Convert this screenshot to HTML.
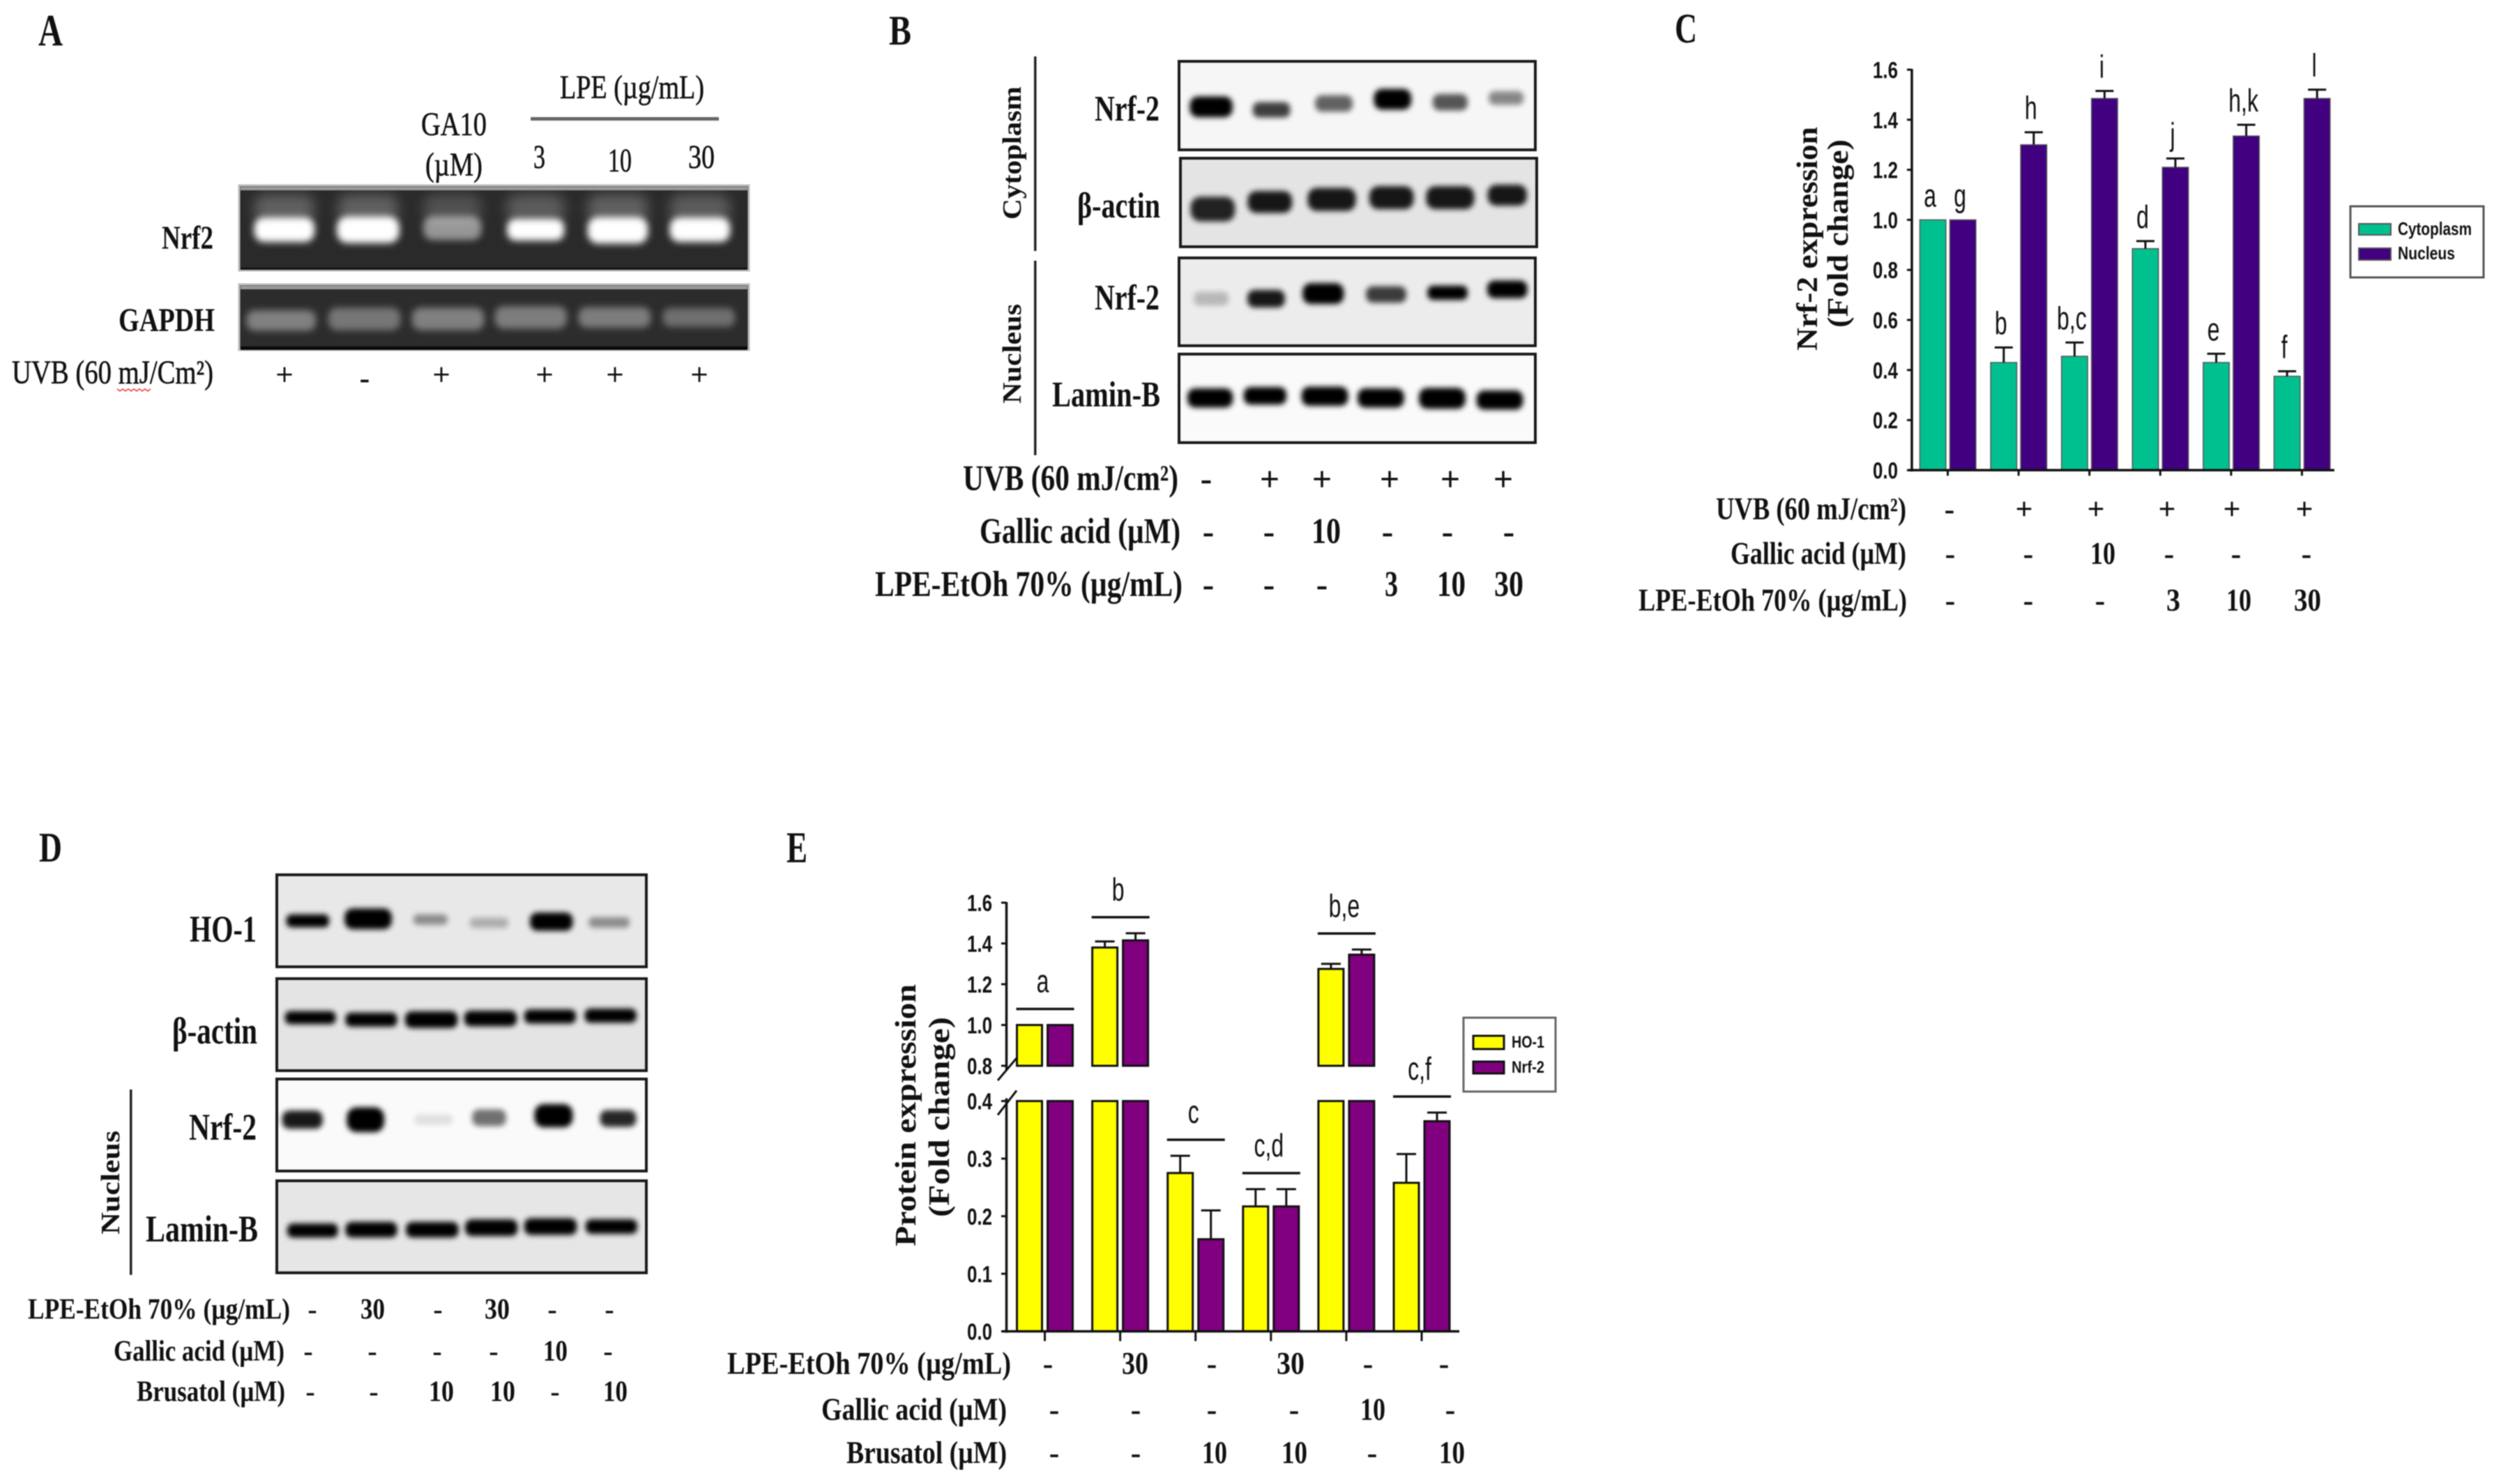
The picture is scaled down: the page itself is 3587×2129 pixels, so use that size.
<!DOCTYPE html>
<html lang="en">
<head>
<meta charset="utf-8">
<title>Nrf-2 and HO-1 expression figure</title>
<style>
html,body{margin:0;padding:0;background:#fff;width:3587px;height:2129px;overflow:hidden}
svg{display:block;filter:blur(0.9px)}
text{fill:#111}
.s{font-family:"Liberation Serif",serif;stroke:#111;stroke-width:.6}
.b{font-family:"Liberation Serif",serif;font-weight:700}
.m{text-anchor:middle}
.blot{stroke:#1a1a1a;stroke-width:4}
</style>
</head>
<body>
<svg id="fig" xmlns="http://www.w3.org/2000/svg" width="3587" height="2129" viewBox="0 0 3587 2129">
<defs>
<filter id="bandBlur" x="-40%" y="-80%" width="180%" height="260%"><feGaussianBlur stdDeviation="4"/></filter>
<filter id="gelBlur" x="-40%" y="-80%" width="180%" height="260%"><feGaussianBlur stdDeviation="5"/></filter>
<filter id="smearBlur" x="-40%" y="-80%" width="180%" height="260%"><feGaussianBlur stdDeviation="9"/></filter>
</defs>
<rect width="3587" height="2129" fill="#fff"/>

<!-- PANEL A -->
<g>
<text class="b" x="55" y="65" font-size="65" textLength="35" lengthAdjust="spacingAndGlyphs">A</text>
<text class="s" x="803" y="141" font-size="48" textLength="207" lengthAdjust="spacingAndGlyphs">LPE (µg/mL)</text>
<rect x="761" y="168" width="270" height="5" fill="#666"/>
<text class="s" x="604" y="194" font-size="48" textLength="94" lengthAdjust="spacingAndGlyphs">GA10</text>
<text class="s" x="610" y="252" font-size="48" textLength="82" lengthAdjust="spacingAndGlyphs">(µM)</text>
<text class="s" x="765" y="241" font-size="48" textLength="17" lengthAdjust="spacingAndGlyphs">3</text>
<text class="s" x="872" y="246" font-size="48" textLength="34" lengthAdjust="spacingAndGlyphs">10</text>
<text class="s" x="987" y="241" font-size="48" textLength="38" lengthAdjust="spacingAndGlyphs">30</text>
<rect x="343" y="266" width="731" height="122" fill="#2a2a2a" stroke="#bbb" stroke-width="3"/>
<g id="gelNrf2"></g>
<rect x="345" y="268" width="727" height="5" fill="#9a9a9a"/>
<rect x="345" y="384" width="727" height="3" fill="#111"/>
<rect x="343" y="408" width="731" height="94" fill="#2c2c2c" stroke="#bbb" stroke-width="3"/>
<g id="gelGapdh"></g>
<rect x="345" y="410" width="727" height="5" fill="#9a9a9a"/>
<rect x="345" y="497" width="727" height="5" fill="#0a0a0a"/>
<text class="b" x="232" y="357" font-size="48" textLength="74" lengthAdjust="spacingAndGlyphs">Nrf2</text>
<text class="b" x="170" y="475" font-size="48" textLength="138" lengthAdjust="spacingAndGlyphs">GAPDH</text>
<text class="s" x="17" y="550" font-size="48" textLength="289" lengthAdjust="spacingAndGlyphs">UVB (60 mJ/Cm²)</text>
<path d="M168 558l4 3 4-3 4 3 4-3 4 3 4-3 4 3 4-3 4 3 4-3 4 3 4-3" fill="none" stroke="#e33" stroke-width="1.5"/>
<text class="s m" x="408" y="552" font-size="44">+</text>
<text class="b m" x="523" y="557" font-size="44">-</text>
<text class="s m" x="633" y="552" font-size="44">+</text>
<text class="s m" x="781" y="552" font-size="44">+</text>
<text class="s m" x="882" y="552" font-size="44">+</text>
<text class="s m" x="1003" y="552" font-size="44">+</text>
</g>

<!-- PANEL B -->
<g>
<text class="b" x="1275" y="64" font-size="60" textLength="32" lengthAdjust="spacingAndGlyphs">B</text>
<rect x="1483" y="81" width="3.5" height="279" fill="#222"/>
<rect x="1483" y="374" width="3.5" height="279" fill="#222"/>
<text class="b" transform="translate(1464,315) rotate(-90)" font-size="38" textLength="191" lengthAdjust="spacingAndGlyphs">Cytoplasm</text>
<text class="b" transform="translate(1464,579) rotate(-90)" font-size="38" textLength="143" lengthAdjust="spacingAndGlyphs">Nucleus</text>
<rect class="blot" x="1691" y="88" width="511" height="127" fill="#f6f6f6"/>
<rect class="blot" x="1693" y="227" width="511" height="127" fill="#e4e4e4"/>
<rect class="blot" x="1691" y="370" width="511" height="126" fill="#ececec"/>
<rect class="blot" x="1691" y="508" width="511" height="127" fill="#fafafa"/>
<g id="blotB"></g>
<text class="b" x="1570" y="173" font-size="52" textLength="93" lengthAdjust="spacingAndGlyphs">Nrf-2</text>
<text class="b" x="1545" y="312" font-size="52" textLength="119" lengthAdjust="spacingAndGlyphs">β-actin</text>
<text class="b" x="1570" y="444" font-size="52" textLength="93" lengthAdjust="spacingAndGlyphs">Nrf-2</text>
<text class="b" x="1509" y="583" font-size="52" textLength="155" lengthAdjust="spacingAndGlyphs">Lamin-B</text>
<text class="b" x="1381" y="703" font-size="52" textLength="309" lengthAdjust="spacingAndGlyphs">UVB (60 mJ/cm²)</text>
<text class="b" x="1405" y="779" font-size="52" textLength="288" lengthAdjust="spacingAndGlyphs">Gallic acid (µM)</text>
<text class="b" x="1255" y="855" font-size="52" textLength="441" lengthAdjust="spacingAndGlyphs">LPE-EtOh 70% (µg/mL)</text>
<text class="b m" x="1730" y="703" font-size="50">-</text>
<text class="b m" x="1821" y="704" font-size="50">+</text>
<text class="b m" x="1896" y="704" font-size="50">+</text>
<text class="b m" x="1993" y="704" font-size="50">+</text>
<text class="b m" x="2080" y="704" font-size="50">+</text>
<text class="b m" x="2156" y="704" font-size="50">+</text>
<text class="b m" x="1733" y="779" font-size="50">-</text>
<text class="b m" x="1820" y="779" font-size="50">-</text>
<text class="b" x="1881" y="779" font-size="52" textLength="42" lengthAdjust="spacingAndGlyphs">10</text>
<text class="b m" x="1990" y="779" font-size="50">-</text>
<text class="b m" x="2076" y="779" font-size="50">-</text>
<text class="b m" x="2164" y="779" font-size="50">-</text>
<text class="b m" x="1733" y="855" font-size="50">-</text>
<text class="b m" x="1820" y="855" font-size="50">-</text>
<text class="b m" x="1896" y="855" font-size="50">-</text>
<text class="b" x="1986" y="855" font-size="52" textLength="19" lengthAdjust="spacingAndGlyphs">3</text>
<text class="b" x="2061" y="855" font-size="52" textLength="41" lengthAdjust="spacingAndGlyphs">10</text>
<text class="b" x="2143" y="855" font-size="52" textLength="42" lengthAdjust="spacingAndGlyphs">30</text>
</g>

<!-- PANEL C -->
<g id="chartC">
<text class="b" x="2402" y="61" font-size="60" textLength="32" lengthAdjust="spacingAndGlyphs">C</text>
<text class="b" transform="translate(2606,503) rotate(-90)" font-size="42" textLength="321" lengthAdjust="spacingAndGlyphs">Nrf-2 expression</text>
<text class="b" transform="translate(2650,470) rotate(-90)" font-size="42" textLength="270" lengthAdjust="spacingAndGlyphs">(Fold change)</text>
<rect x="3371" y="296" width="191" height="102" fill="#fff" stroke="#555" stroke-width="3"/>
<rect x="3383" y="321" width="46" height="16" fill="#00c08f" stroke="#555" stroke-width="2"/>
<rect x="3383" y="356" width="46" height="17" fill="#400080" stroke="#555" stroke-width="2"/>
<text font-family="Liberation Sans, sans-serif" font-weight="700" font-size="26" x="3439" y="337" textLength="106" lengthAdjust="spacingAndGlyphs">Cytoplasm</text>
<text font-family="Liberation Sans, sans-serif" font-weight="700" font-size="26" x="3439" y="372" textLength="82" lengthAdjust="spacingAndGlyphs">Nucleus</text>
<text class="b" x="2461" y="745" font-size="45" textLength="273" lengthAdjust="spacingAndGlyphs">UVB (60 mJ/cm²)</text>
<text class="b" x="2482" y="809" font-size="45" textLength="252" lengthAdjust="spacingAndGlyphs">Gallic acid (µM)</text>
<text class="b" x="2350" y="876" font-size="45" textLength="385" lengthAdjust="spacingAndGlyphs">LPE-EtOh 70% (µg/mL)</text>
<text class="b m" x="2796" y="745" font-size="44">-</text>
<text class="b m" x="2903" y="745" font-size="44">+</text>
<text class="b m" x="3006" y="745" font-size="44">+</text>
<text class="b m" x="3108" y="745" font-size="44">+</text>
<text class="b m" x="3201" y="745" font-size="44">+</text>
<text class="b m" x="3305" y="745" font-size="44">+</text>
<text class="b m" x="2797" y="809" font-size="44">-</text>
<text class="b m" x="2909" y="809" font-size="44">-</text>
<text class="b" x="2998" y="809" font-size="45" textLength="36" lengthAdjust="spacingAndGlyphs">10</text>
<text class="b m" x="3111" y="809" font-size="44">-</text>
<text class="b m" x="3207" y="809" font-size="44">-</text>
<text class="b m" x="3308" y="809" font-size="44">-</text>
<text class="b m" x="2797" y="876" font-size="44">-</text>
<text class="b m" x="2909" y="876" font-size="44">-</text>
<text class="b m" x="3012" y="876" font-size="44">-</text>
<text class="b" x="3107" y="876" font-size="45" textLength="20" lengthAdjust="spacingAndGlyphs">3</text>
<text class="b" x="3193" y="876" font-size="45" textLength="36" lengthAdjust="spacingAndGlyphs">10</text>
<text class="b" x="3290" y="876" font-size="45" textLength="39" lengthAdjust="spacingAndGlyphs">30</text>
</g>

<!-- PANEL D -->
<g>
<text class="b" x="56" y="1236" font-size="60" textLength="33" lengthAdjust="spacingAndGlyphs">D</text>
<rect class="blot" x="397" y="1255" width="530" height="132" fill="#e8e8e8"/>
<rect class="blot" x="397" y="1404" width="530" height="132" fill="#e4e4e4"/>
<rect class="blot" x="397" y="1548" width="530" height="132" fill="#fafafa"/>
<rect class="blot" x="397" y="1694" width="530" height="132" fill="#e6e6e6"/>
<g id="blotD"></g>
<text class="b" x="272" y="1351" font-size="54" textLength="96" lengthAdjust="spacingAndGlyphs">HO-1</text>
<text class="b" x="247" y="1497" font-size="54" textLength="122" lengthAdjust="spacingAndGlyphs">β-actin</text>
<text class="b" x="271" y="1635" font-size="54" textLength="97" lengthAdjust="spacingAndGlyphs">Nrf-2</text>
<text class="b" x="209" y="1781" font-size="54" textLength="161" lengthAdjust="spacingAndGlyphs">Lamin-B</text>
<rect x="186" y="1563" width="3.5" height="266" fill="#222"/>
<text class="b" transform="translate(171,1771) rotate(-90)" font-size="38" textLength="149" lengthAdjust="spacingAndGlyphs">Nucleus</text>
<text class="b" x="40" y="1892" font-size="42" textLength="376" lengthAdjust="spacingAndGlyphs">LPE-EtOh 70% (µg/mL)</text>
<text class="b" x="163" y="1952" font-size="42" textLength="245" lengthAdjust="spacingAndGlyphs">Gallic acid (µM)</text>
<text class="b" x="196" y="2010" font-size="42" textLength="213" lengthAdjust="spacingAndGlyphs">Brusatol (µM)</text>
<text class="b m" x="448" y="1892" font-size="40">-</text>
<text class="b" x="517" y="1892" font-size="42" textLength="35" lengthAdjust="spacingAndGlyphs">30</text>
<text class="b m" x="628" y="1892" font-size="40">-</text>
<text class="b" x="695" y="1892" font-size="42" textLength="36" lengthAdjust="spacingAndGlyphs">30</text>
<text class="b m" x="792" y="1892" font-size="40">-</text>
<text class="b m" x="874" y="1892" font-size="40">-</text>
<text class="b m" x="442" y="1952" font-size="40">-</text>
<text class="b m" x="534" y="1952" font-size="40">-</text>
<text class="b m" x="627" y="1952" font-size="40">-</text>
<text class="b m" x="708" y="1952" font-size="40">-</text>
<text class="b" x="779" y="1952" font-size="42" textLength="35" lengthAdjust="spacingAndGlyphs">10</text>
<text class="b m" x="872" y="1952" font-size="40">-</text>
<text class="b m" x="445" y="2010" font-size="40">-</text>
<text class="b m" x="536" y="2010" font-size="40">-</text>
<text class="b" x="615" y="2010" font-size="42" textLength="36" lengthAdjust="spacingAndGlyphs">10</text>
<text class="b" x="703" y="2010" font-size="42" textLength="36" lengthAdjust="spacingAndGlyphs">10</text>
<text class="b m" x="796" y="2010" font-size="40">-</text>
<text class="b" x="865" y="2010" font-size="42" textLength="35" lengthAdjust="spacingAndGlyphs">10</text>
</g>

<!-- PANEL E -->
<g id="chartE">
<text class="b" x="1128" y="1237" font-size="64" textLength="30" lengthAdjust="spacingAndGlyphs">E</text>
<text class="b" transform="translate(1313,1788) rotate(-90)" font-size="42" textLength="376" lengthAdjust="spacingAndGlyphs">Protein expression</text>
<text class="b" transform="translate(1361,1746) rotate(-90)" font-size="42" textLength="287" lengthAdjust="spacingAndGlyphs">(Fold change)</text>
<rect x="2099" y="1460" width="132" height="106" fill="#fff" stroke="#666" stroke-width="3"/>
<rect x="2113" y="1486" width="44" height="19" fill="#ffff00" stroke="#111" stroke-width="3"/>
<rect x="2113" y="1523" width="44" height="17" fill="#800080" stroke="#111" stroke-width="3"/>
<text font-family="Liberation Sans, sans-serif" font-weight="700" font-size="24" x="2168" y="1503" textLength="47" lengthAdjust="spacingAndGlyphs">HO-1</text>
<text font-family="Liberation Sans, sans-serif" font-weight="700" font-size="24" x="2168" y="1539" textLength="47" lengthAdjust="spacingAndGlyphs">Nrf-2</text>
<text class="b" x="1043" y="1971" font-size="45" textLength="407" lengthAdjust="spacingAndGlyphs">LPE-EtOh 70% (µg/mL)</text>
<text class="b" x="1178" y="2037" font-size="45" textLength="266" lengthAdjust="spacingAndGlyphs">Gallic acid (µM)</text>
<text class="b" x="1214" y="2099" font-size="45" textLength="230" lengthAdjust="spacingAndGlyphs">Brusatol (µM)</text>
<text class="b m" x="1503" y="1971" font-size="44">-</text>
<text class="b" x="1609" y="1971" font-size="45" textLength="38" lengthAdjust="spacingAndGlyphs">30</text>
<text class="b m" x="1738" y="1971" font-size="44">-</text>
<text class="b" x="1831" y="1971" font-size="45" textLength="40" lengthAdjust="spacingAndGlyphs">30</text>
<text class="b m" x="1962" y="1971" font-size="44">-</text>
<text class="b m" x="2071" y="1971" font-size="44">-</text>
<text class="b m" x="1512" y="2037" font-size="44">-</text>
<text class="b m" x="1629" y="2037" font-size="44">-</text>
<text class="b m" x="1738" y="2037" font-size="44">-</text>
<text class="b m" x="1856" y="2037" font-size="44">-</text>
<text class="b" x="1951" y="2037" font-size="45" textLength="36" lengthAdjust="spacingAndGlyphs">10</text>
<text class="b m" x="2080" y="2037" font-size="44">-</text>
<text class="b m" x="1512" y="2099" font-size="44">-</text>
<text class="b m" x="1629" y="2099" font-size="44">-</text>
<text class="b" x="1724" y="2099" font-size="45" textLength="36" lengthAdjust="spacingAndGlyphs">10</text>
<text class="b" x="1838" y="2099" font-size="45" textLength="37" lengthAdjust="spacingAndGlyphs">10</text>
<text class="b m" x="1968" y="2099" font-size="44">-</text>
<text class="b" x="2064" y="2099" font-size="45" textLength="37" lengthAdjust="spacingAndGlyphs">10</text>
</g>
</svg>

<script>
// ---- Panel C data ----
const cCategories = ['control', 'uvb', 'uvb-gallic-10', 'uvb-lpe-3', 'uvb-lpe-10', 'uvb-lpe-30'];
const cCytoplasm = [1.0, 0.43, 0.455, 0.885, 0.43, 0.375];
const cNucleus = [1.0, 1.30, 1.485, 1.21, 1.335, 1.485];
const cCytoplasmErr = [0, 0.06, 0.055, 0.03, 0.035, 0.02];
const cNucleusErr = [0, 0.05, 0.03, 0.035, 0.045, 0.035];
const cCytoplasmLetters = ['a', 'b', 'b,c', 'd', 'e', 'f'];
const cNucleusLetters = ['g', 'h', 'i', 'j', 'h,k', 'l'];
const cYTicks = ['0.0', '0.2', '0.4', '0.6', '0.8', '1.0', '1.2', '1.4', '1.6'];

// ---- Panel E data ----
const eCategories = ['control', 'lpe-30', 'brusatol-10', 'lpe-30-brusatol-10', 'gallic-10', 'brusatol-10-only'];
const eHo1 = [1.0, 1.38, 0.275, 0.217, 1.275, 0.258];
const eNrf2 = [1.0, 1.415, 0.16, 0.217, 1.345, 0.365];
const eHo1Err = [0, 0.03, 0.03, 0.03, 0.025, 0.05];
const eNrf2Err = [0, 0.035, 0.05, 0.03, 0.025, 0.015];
const eGroupLetters = ['a', 'b', 'c', 'c,d', 'b,e', 'c,f'];
const eYTicks = ['0.0', '0.1', '0.2', '0.3', '0.4', '0.8', '1.0', '1.2', '1.4', '1.6'];

const NS = 'http://www.w3.org/2000/svg';
function add(parent, tag, attrs, name) {
  const el = document.createElementNS(NS, tag);
  for (const k in attrs) el.setAttribute(k, attrs[k]);
  
  
  parent.appendChild(el);
  return el;
}
function label(parent, str, attrs, name) {
  const el = add(parent, 'text', attrs, name);
  el.textContent = str;
  return el;
}
const SANS = '"Liberation Sans", sans-serif';
function narrow(x, y) { return 'translate(' + x + ',' + y + ') scale(0.8,1.15)'; }

// ---- Panel C chart ----
(function () {
  const g = document.getElementById('chartC');
  const y0 = 674.5, pxPerUnit = 359.1;
  const yScale = v => y0 - v * pxPerUnit;
  const xLeft = 2753.5, step = 101.6, barW = 37.4, secondOffset = 43;
  const xBar = (i, s) => xLeft + i * step + s * secondOffset;
  const colors = ['#00c08f', '#400080'];
  const series = [cCytoplasm, cNucleus];
  const errs = [cCytoplasmErr, cNucleusErr];
  const letters = [cCytoplasmLetters, cNucleusLetters];
  const names = ['cytoplasm', 'nucleus'];
  cCategories.forEach((c, i) => {
    series.forEach((vals, s) => {
      const v = vals[i], x = xBar(i, s), top = yScale(v), eTop = yScale(v + errs[s][i]), mid = x + barW / 2;
      add(g, 'rect', { x: x, y: top, width: barW, height: y0 - top, fill: colors[s], stroke: '#555', 'stroke-width': 1.5 }, 'bar-' + names[s] + '-' + c);
      if (errs[s][i] > 0) {
        add(g, 'line', { x1: mid, x2: mid, y1: top, y2: eTop, stroke: '#111', 'stroke-width': 3 }, 'error-bar-' + names[s]);
        add(g, 'line', { x1: mid - 13, x2: mid + 13, y1: eTop, y2: eTop, stroke: '#111', 'stroke-width': 3 }, 'error-cap-' + names[s]);
      }
      label(g, letters[s][i], { transform: narrow(mid - 4, eTop - 19), 'text-anchor': 'middle', 'font-family': SANS, 'font-size': 40 }, 'significance-letter');
    });
    const tx = xLeft + i * step + 40;
    add(g, 'line', { x1: tx, x2: tx, y1: y0, y2: y0 + 8, stroke: '#111', 'stroke-width': 3 }, 'x-tick');
  });
  add(g, 'line', { x1: 2742, x2: 2742, y1: yScale(1.6) - 1, y2: y0 + 2, stroke: '#111', 'stroke-width': 3.5 }, 'y-axis-line');
  add(g, 'line', { x1: 2737, x2: 3348, y1: y0, y2: y0, stroke: '#111', 'stroke-width': 3.5 }, 'x-axis-line');
  cYTicks.forEach(t => {
    const y = yScale(parseFloat(t));
    add(g, 'line', { x1: 2735, x2: 2742, y1: y, y2: y, stroke: '#111', 'stroke-width': 3 }, 'y-tick');
    label(g, t, { x: 2686, y: y + 12, 'font-family': SANS, 'font-weight': 700, 'font-size': 33, textLength: 36, lengthAdjust: 'spacingAndGlyphs' }, 'y-tick-label');
  });
})();

// ---- Panel E chart (broken y axis) ----
(function () {
  const g = document.getElementById('chartE');
  const y0 = 1910, yLowTop = 1579.6, yHighBase = 1529, yHighTop = 1295;
  const lowScale = v => y0 - v * (y0 - yLowTop) / 0.4;
  const highScale = v => yHighBase - (v - 0.8) * (yHighBase - yHighTop) / 0.8;
  const yScale = v => v >= 0.8 ? highScale(v) : lowScale(Math.min(v, 0.4));
  const xLeft = 1458.5, step = 108.1, barW = 36, secondOffset = 44;
  const xBar = (i, s) => xLeft + i * step + s * secondOffset;
  const colors = ['#ffff00', '#800080'];
  const series = [eHo1, eNrf2];
  const errs = [eHo1Err, eNrf2Err];
  const names = ['ho1', 'nrf2'];
  eCategories.forEach((c, i) => {
    let groupTop = Infinity;
    series.forEach((vals, s) => {
      const v = vals[i], x = xBar(i, s), mid = x + barW / 2;
      const lowTop = yScale(Math.min(v, 0.4));
      add(g, 'rect', { x: x, y: lowTop, width: barW, height: y0 - lowTop, fill: colors[s], stroke: '#111', 'stroke-width': 3 }, 'bar-' + names[s] + '-' + c);
      if (v >= 0.8) {
        const hiTop = highScale(v);
        add(g, 'rect', { x: x, y: hiTop, width: barW, height: yHighBase - hiTop, fill: colors[s], stroke: '#111', 'stroke-width': 3 }, 'bar-upper-' + names[s] + '-' + c);
      }
      const top = yScale(v), eTop = yScale(v + errs[s][i]);
      groupTop = Math.min(groupTop, eTop);
      if (errs[s][i] > 0) {
        add(g, 'line', { x1: mid, x2: mid, y1: top, y2: eTop, stroke: '#111', 'stroke-width': 3 }, 'error-bar-' + names[s]);
        add(g, 'line', { x1: mid - 14, x2: mid + 14, y1: eTop, y2: eTop, stroke: '#111', 'stroke-width': 3 }, 'error-cap-' + names[s]);
      }
    });
    const bx = xBar(i, 0) - 1;
    add(g, 'line', { x1: bx, x2: bx + 83, y1: groupTop - 23, y2: groupTop - 23, stroke: '#111', 'stroke-width': 3.5 }, 'significance-bracket');
    label(g, eGroupLetters[i], { transform: narrow(bx + 38, groupTop - 47), 'text-anchor': 'middle', 'font-family': SANS, 'font-size': 40 }, 'significance-letter');
    const tx = xBar(i, 0) + 40;
    add(g, 'line', { x1: tx, x2: tx, y1: y0, y2: y0 + 14, stroke: '#111', 'stroke-width': 3 }, 'x-tick');
  });
  add(g, 'line', { x1: 1443.5, x2: 1443.5, y1: yHighTop - 1, y2: yHighBase + 6, stroke: '#111', 'stroke-width': 3.5 }, 'y-axis-upper-line');
  add(g, 'line', { x1: 1443.5, x2: 1443.5, y1: yLowTop - 4, y2: y0 + 2, stroke: '#111', 'stroke-width': 3.5 }, 'y-axis-lower-line');
  add(g, 'line', { x1: 1431, x2: 1458, y1: yHighBase + 21, y2: yHighBase - 11, stroke: '#111', 'stroke-width': 3 }, 'axis-break-upper');
  add(g, 'line', { x1: 1431, x2: 1458, y1: yLowTop + 20, y2: yLowTop - 15, stroke: '#111', 'stroke-width': 3 }, 'axis-break-lower');
  add(g, 'line', { x1: 1437, x2: 2093, y1: y0, y2: y0, stroke: '#111', 'stroke-width': 3.5 }, 'x-axis-line');
  eYTicks.forEach(t => {
    const y = yScale(parseFloat(t));
    add(g, 'line', { x1: 1436, x2: 1443, y1: y, y2: y, stroke: '#111', 'stroke-width': 3 }, 'y-tick');
    label(g, t, { x: 1387, y: y + 12, 'font-family': SANS, 'font-weight': 700, 'font-size': 33, textLength: 36, lengthAdjust: 'spacingAndGlyphs' }, 'y-tick-label');
  });
})();

// ---- Gel and blot bands ----
function bands(id, toX, toY, list, colour, filter, name, grow) {
  const g = document.getElementById(id);
  list.forEach(b => {
    const w = b[2] / toX.s + 4, h = b[3] / toY.s * grow;
    add(g, 'rect', { x: toX(b[0]) - w / 2, y: toY(b[1]) - h / 2, width: w, height: h, rx: Math.min(w, h) / 2.5, fill: colour, opacity: b[4], filter: filter }, name);
  });
}
function mapper(offset, s) { const f = z => offset + z / s; f.s = s; return f; }
const aX = mapper(0, 1.307), aY = mapper(0, 2.24);
bands('gelNrf2', aX, aY, [[533,670,108,90,.3],[690,670,108,90,.3],[848,670,104,90,.22],[1004,670,104,90,.28],[1158,670,108,90,.3],[1312,670,108,90,.28]], '#ddd', 'url(#smearBlur)', 'gel-smear', 1);
bands('gelNrf2', aX, aY, [[533,738,108,72,1],[690,738,112,78,1],[848,733,104,70,.5],[1004,738,102,64,1],[1158,740,108,78,1],[1312,738,108,72,1]], '#fff', 'url(#gelBlur)', 'gel-band', 1.1);
bands('gelGapdh', aX, aY, [[527,1030,125,60,.48],[683,1025,130,66,.42],[840,1025,130,66,.48],[995,1020,130,66,.46],[1152,1020,130,60,.46],[1310,1020,130,55,.38]], '#ddd', 'url(#gelBlur)', 'gel-band', 1.1);

const bX = mapper(1200, 1.307), bY = mapper(0, 1.65);
bands('blotB', bX, bY, [[702,253,75,38,1],[815,260,65,28,.75],[932,245,65,30,.6],[1042,235,65,38,1],[1150,242,60,30,.65],[1255,232,60,25,.45],
  [705,495,78,45,.85],[812,478,78,40,.9],[928,472,85,42,.9],[1040,468,78,42,.9],[1150,468,85,42,.9],[1257,462,68,38,.9],
  [702,707,60,25,.22],[805,707,65,32,.9],[912,695,72,38,1],[1030,697,70,30,.75],[1145,693,70,26,1],[1257,685,70,32,1],
  [700,942,80,35,1],[803,937,75,32,1],[915,938,82,35,1],[1020,942,82,35,1],[1135,943,82,38,1],[1243,947,82,35,1]], '#000', 'url(#bandBlur)', 'blot-band', 1.3);

const dX = mapper(0, 1.568), dY = mapper(1150, 1.742);
bands('blotD', dX, dY, [[692,298,90,25,1],[828,293,100,40,1],[968,295,70,20,.4],[1100,303,80,20,.25],[1240,300,90,35,1],[1370,302,85,20,.4],
  [698,540,108,25,1],[835,545,110,27,1],[970,545,112,32,1],[1103,542,112,30,1],[1237,537,110,27,1],[1373,535,110,27,1],
  [680,795,85,35,.9],[822,795,78,48,1],[975,795,80,20,.1],[1100,790,70,32,.55],[1245,785,80,45,1],[1390,792,75,32,.85],
  [703,1072,108,27,1],[835,1070,110,30,1],[972,1070,112,30,1],[1105,1065,112,32,1],[1238,1062,112,32,1],[1375,1062,110,28,1]], '#000', 'url(#bandBlur)', 'blot-band', 1.3);
</script>
</body>
</html>
